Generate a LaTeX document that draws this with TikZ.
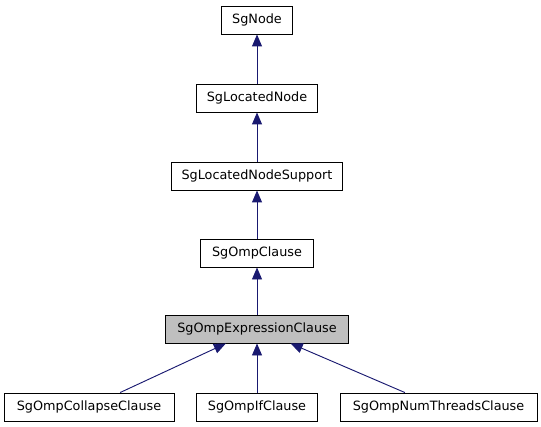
\documentclass[tikz,border=0pt]{standalone}
\usepackage{fontspec}
\setmainfont{DejaVu Sans}
\usetikzlibrary{arrows.meta}
\definecolor{edgeblue}{HTML}{191970}
\begin{document}
\begin{tikzpicture}[x=0.75pt, y=-0.75pt, font=\fontsize{9.6}{11.5}\selectfont,
    cls/.style={draw, fill=white, line width=0.7pt, minimum height=21pt, inner sep=0pt},
    inherit/.style={draw=edgeblue, line width=0.7pt, -{Triangle[length=9pt, width=7.5pt, fill=edgeblue]}}]
  \useasboundingbox (0,0) rectangle (541,427);
  % base chain, one box above the other
  \foreach \n/\txt/\y/\w in {
      node/SgNode/20/71,
      located/SgLocatedNode/98/121,
      support/SgLocatedNodeSupport/176/171,
      clause/SgOmpClause/253/113} {
    \node[cls, minimum width=\w*0.75pt] (\n) at (257,\y) {\txt};
  }
  \node[cls, fill=black!25, minimum width=183*0.75pt] (expr) at (257,329) {SgOmpExpressionClause};
  % derived clauses
  \foreach \n/\txt/\x/\w in {
      collapse/SgOmpCollapseClause/89/170,
      ifcl/SgOmpIfClause/257/121,
      numthreads/SgOmpNumThreadsClause/438.5/197} {
    \node[cls, minimum width=\w*0.75pt] (\n) at (\x,407) {\txt};
    \draw[inherit] (\n) -- (expr);
  }
  \draw[inherit] (located) -- (node);
  \draw[inherit] (support) -- (located);
  \draw[inherit] (clause) -- (support);
  \draw[inherit] (expr) -- (clause);
\end{tikzpicture}
\end{document}
